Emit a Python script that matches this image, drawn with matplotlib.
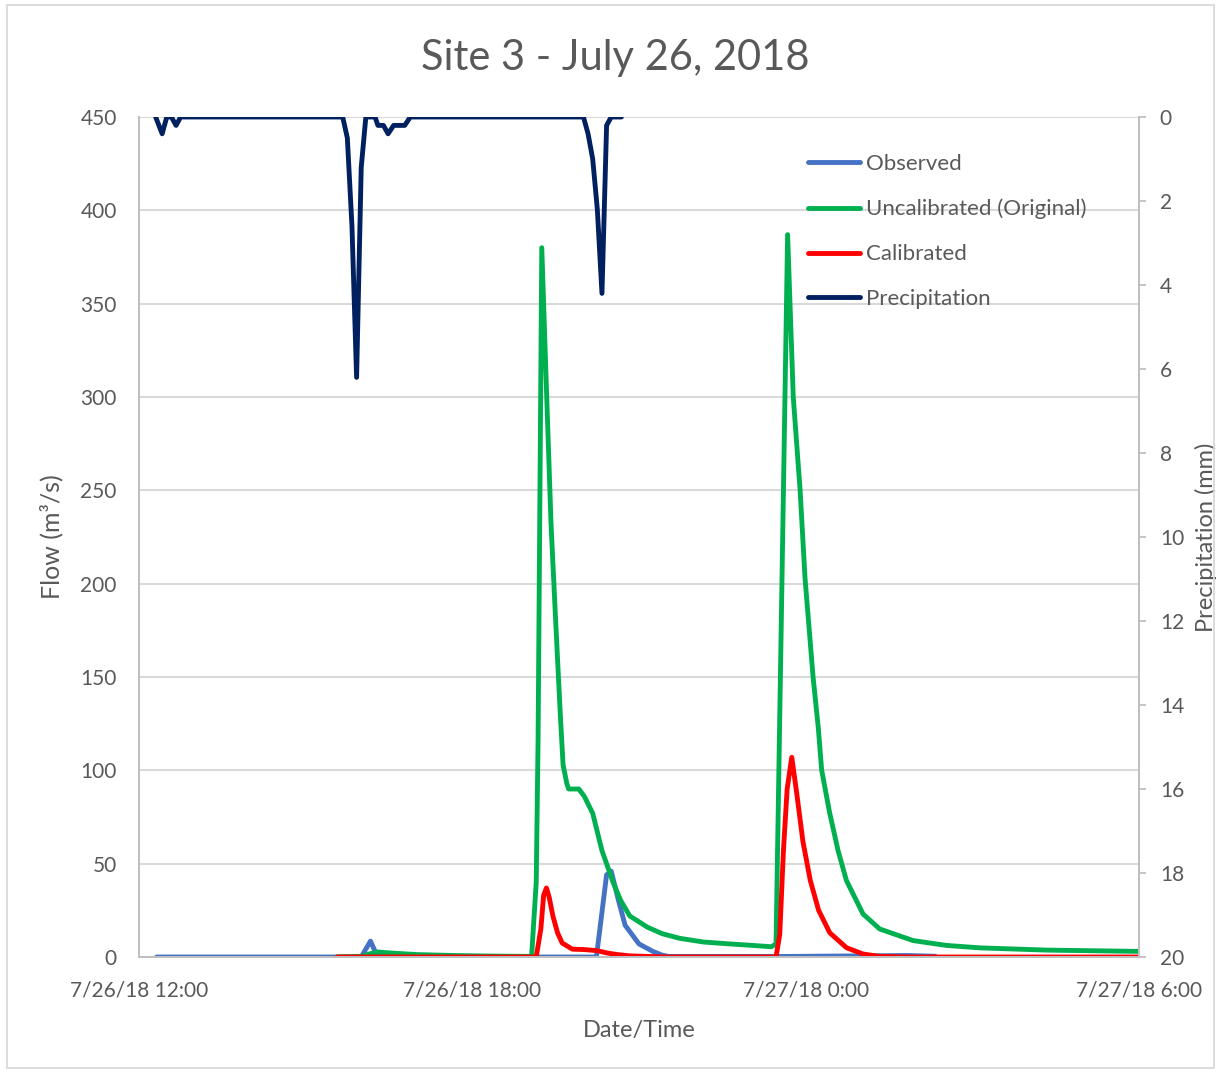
import numpy as np
import matplotlib
matplotlib.use('Agg')
import matplotlib.pyplot as plt
from matplotlib.patches import Rectangle

plt.rcParams['font.family'] = ['Lato', 'DejaVu Sans']

# minutes after 7/26/18 12:00
obs_min = [19, 240, 250, 255, 262, 270, 494, 505, 510, 518, 525, 540, 555, 565, 572, 700, 830, 860]
obs_val = [0, 0, 8.5, 3, 0.5, 0, 0, 44, 46, 30, 17, 7, 3, 1, 0.3, 0.3, 0.8, 0.4]

unc_min = [214, 240, 250, 258, 270, 300, 340, 380, 424, 429, 431, 435, 440, 445, 450, 455, 458, 462,
           464, 475, 481, 490, 496, 500, 505, 512, 520, 530, 549, 565, 584, 610, 638, 660,
           683, 688, 700.5, 706.6, 714, 719.3, 728, 733.6, 737.3, 746, 755, 764, 782,
           800, 836, 872, 908, 980, 1081]
unc_val = [0, 0.3, 1.8, 2.7, 2.2, 1.3, 0.8, 0.5, 0.3, 40, 116, 380, 305, 232, 180, 130, 103, 93,
           90, 90, 86, 77, 65, 57, 50, 40, 30.5, 22, 16, 12.5, 10, 8, 7, 6.3,
           5.5, 7, 387, 300, 250, 203, 150, 123, 100, 77, 57, 41, 23,
           15, 8.8, 6.2, 4.9, 3.7, 3.0]

cal_min = [214, 429, 434, 437, 440, 443, 447, 452, 457, 462, 468, 480, 495, 505, 515, 530, 570,
           688, 692, 696, 700, 705, 710, 717, 725, 734, 746, 764, 782, 800, 830, 1080]
cal_val = [0, 0, 15, 33, 37, 32, 22, 13, 7.5, 6, 4.2, 4.0, 3.4, 2.2, 1.4, 0.6, 0,
           0, 12, 57, 90, 107, 89, 62, 41, 25, 13, 5, 1.6, 0.3, 0, 0]

pr_min = [18, 25, 30, 35, 40, 45, 220, 225, 230, 235, 240, 245, 255, 258, 264, 269, 275, 287,
          293, 480, 485, 490, 495, 500, 505, 510, 521]
pr_val = [0, 0.4, 0, 0, 0.2, 0, 0, 0.5, 2.6, 6.2, 1.2, 0, 0, 0.2, 0.2, 0.4, 0.2, 0.2,
          0, 0, 0.4, 1.0, 2.2, 4.2, 0.2, 0, 0]

tick_hours = [0, 6, 12, 18]
tick_labels = ['7/26/18 12:00', '7/26/18 18:00', '7/27/18 0:00', '7/27/18 6:00']

start = np.datetime64('2018-07-26T12:00')


def to_time(mins):
    # whole seconds so fractional minutes work
    return start + (np.array(mins) * 60).astype('timedelta64[s]')


text_col = '#595959'
grid_col = '#D9D9D9'
axis_col = '#BFBFBF'
line_kw = dict(lw=3.5, solid_joinstyle='round', solid_capstyle='round')

fig = plt.figure(figsize=(12.18, 10.72), dpi=100)
ax = fig.add_axes([139 / 1218, 1 - 957 / 1072, 1000 / 1218, 840 / 1072])
ax2 = ax.twinx()

l1, = ax.plot(to_time(obs_min), obs_val, color='#4472C4', label='Observed', **line_kw)
l2, = ax.plot(to_time(unc_min), unc_val, color='#00B050', label='Uncalibrated (Original)', **line_kw)
l3, = ax.plot(to_time(cal_min), cal_val, color='#FF0000', label='Calibrated', **line_kw)
l4, = ax2.plot(to_time(pr_min), pr_val, color='#002060', label='Precipitation', **line_kw)

ax.set_ylim(0, 450)
ax.set_yticks(range(0, 451, 50))
ax.set_xlim(start, start + np.timedelta64(18, 'h'))
ax.set_xticks(to_time([h * 60 for h in tick_hours]))
ax.set_xticklabels(tick_labels)
ax.grid(axis='y', color=grid_col, lw=1.5)
ax.set_axisbelow(True)

ax2.set_ylim(20, 0)
ax2.set_yticks(range(0, 21, 2))

for a in (ax, ax2):
    for s in a.spines.values():
        s.set_color(axis_col)
        s.set_linewidth(1.3)
    a.spines['top'].set_visible(False)
ax.tick_params(axis='y', length=0, pad=16, labelsize=15, labelcolor=text_col)
ax.tick_params(axis='x', length=0, pad=17, labelsize=15, labelcolor=text_col)
ax2.tick_params(axis='y', length=5, width=1.3, color=axis_col, pad=10, labelsize=15, labelcolor=text_col)

ax.set_ylabel('Flow (m³/s)', fontsize=18, color=text_col, labelpad=12)
ax.set_xlabel('Date/Time', fontsize=17, color=text_col, labelpad=14)
ax2.set_ylabel('Precipitation (mm)', fontsize=17, color=text_col, labelpad=8)

fig.text(615 / 1218, 1 - 58 / 1072, 'Site 3 - July 26, 2018', fontsize=30, color=text_col,
         ha='center', va='center')

ax2.legend(handles=[l1, l2, l3, l4], loc='upper left', frameon=False, fontsize=16,
           bbox_to_anchor=(808 / 1218, 1 - 154 / 1072), bbox_transform=fig.transFigure,
           borderpad=0, borderaxespad=0, handlelength=2.34, handletextpad=0.27,
           labelspacing=1.12, labelcolor=text_col)

fig.patches.append(Rectangle((7 / 1218, 1 - 1068 / 1072), 1207 / 1218, 1063 / 1072,
                             transform=fig.transFigure, fill=False, edgecolor='#D9D9D9', lw=1.3))

fig.savefig('out.png', dpi=100)
